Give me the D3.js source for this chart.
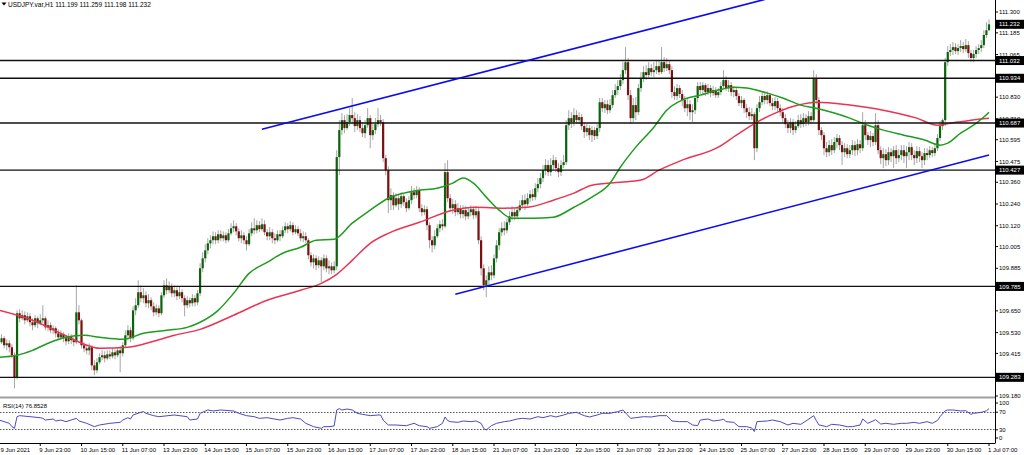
<!DOCTYPE html>
<html><head><meta charset="utf-8">
<script src="https://cdn.jsdelivr.net/npm/d3@7"></script>
<style>body{margin:0;background:#fff;}svg{display:block;}text{font-family:"Liberation Sans",Arial,sans-serif;}</style>
</head><body><svg id="c" width="1024" height="455"></svg>
<script>
const symbol = "USDJPY.var,H1";
const opens = [
109.488,109.477,109.499,109.460,109.471,109.449,109.405,109.283,109.637,109.609,
109.626,109.598,109.620,109.587,109.571,109.609,109.582,109.598,109.609,109.559,
109.571,109.543,109.554,109.526,109.504,109.521,109.499,109.482,109.510,109.488,
109.477,109.642,109.598,109.460,109.443,109.432,109.449,109.349,109.322,109.366,
109.394,109.405,109.388,109.410,109.399,109.421,109.405,109.432,109.416,109.460,
109.515,109.543,109.499,109.653,109.681,109.753,109.720,109.736,109.692,109.709,
109.675,109.642,109.664,109.637,109.736,109.791,109.764,109.786,109.747,109.764,
109.731,109.753,109.720,109.681,109.709,109.692,109.720,109.697,109.747,109.885,
109.940,109.984,110.023,110.040,110.062,110.040,110.073,110.051,110.067,110.040,
110.078,110.106,110.117,110.089,110.051,110.067,110.040,110.018,110.078,110.106,
110.095,110.123,110.101,110.128,110.084,110.062,110.084,110.051,110.040,110.073,
110.062,110.095,110.117,110.101,110.123,110.084,110.101,110.078,110.051,110.062,
110.040,109.957,109.918,109.940,109.902,109.929,109.896,109.940,109.885,109.896,
109.874,109.896,110.499,110.648,110.703,110.659,110.692,110.731,110.714,110.670,
110.703,110.659,110.631,110.675,110.714,110.620,110.648,110.681,110.703,110.692,
110.493,110.427,110.261,110.289,110.233,110.272,110.239,110.283,110.250,110.217,
110.261,110.305,110.289,110.316,110.217,110.195,110.211,110.123,110.040,110.012,
110.062,110.106,110.128,110.117,110.416,110.272,110.217,110.239,110.195,110.217,
110.184,110.206,110.172,110.195,110.211,110.178,110.200,110.040,109.885,109.791,
109.819,109.863,109.846,109.940,110.012,110.084,110.106,110.095,110.139,110.172,
110.195,110.172,110.206,110.233,110.261,110.239,110.272,110.294,110.278,110.327,
110.350,110.383,110.427,110.455,110.416,110.455,110.482,110.438,110.416,110.455,
110.471,110.675,110.714,110.692,110.731,110.703,110.720,110.670,110.637,110.659,
110.620,110.648,110.615,110.659,110.802,110.769,110.791,110.758,110.786,110.841,
110.869,110.891,110.924,110.979,111.023,110.841,110.714,110.786,110.747,110.880,
110.935,110.968,110.952,110.990,110.968,110.979,111.001,110.968,111.023,110.990,
111.012,110.979,110.858,110.836,110.880,110.847,110.814,110.769,110.791,110.747,
110.758,110.825,110.891,110.869,110.896,110.858,110.880,110.852,110.869,110.841,
110.858,110.891,110.924,110.880,110.896,110.858,110.869,110.836,110.797,110.814,
110.769,110.747,110.725,110.736,110.548,110.769,110.802,110.836,110.814,110.841,
110.797,110.780,110.808,110.769,110.747,110.714,110.681,110.659,110.692,110.648,
110.670,110.703,110.681,110.714,110.692,110.725,110.703,110.935,110.814,110.648,
110.620,110.548,110.526,110.565,110.537,110.582,110.604,110.565,110.526,110.548,
110.515,110.537,110.565,110.537,110.570,110.548,110.675,110.620,110.593,110.615,
110.582,110.675,110.537,110.493,110.515,110.482,110.526,110.504,110.537,110.493,
110.510,110.537,110.504,110.526,110.554,110.510,110.493,110.532,110.504,110.482,
110.521,110.510,110.537,110.521,110.548,110.604,110.670,110.703,111.023,111.079,
111.090,111.106,111.084,111.101,111.112,111.095,111.117,111.073,111.046,111.068,
111.090,111.101,111.117,111.173,111.199];
const highs = [
109.515,109.521,109.510,109.493,109.488,109.466,109.421,109.653,109.659,109.653,
109.647,109.642,109.637,109.609,109.626,109.620,109.631,109.681,109.620,109.598,
109.587,109.571,109.565,109.548,109.543,109.532,109.515,109.526,109.521,109.504,
109.791,109.681,109.609,109.477,109.460,109.471,109.460,109.377,109.388,109.416,
109.432,109.427,109.432,109.432,109.443,109.438,109.449,109.455,109.477,109.543,
109.571,109.559,109.675,109.720,109.819,109.791,109.775,109.758,109.742,109.725,
109.697,109.686,109.681,109.753,109.819,109.830,109.813,109.802,109.791,109.780,
109.786,109.769,109.736,109.731,109.725,109.742,109.736,109.764,109.913,109.973,
110.018,110.051,110.067,110.089,110.084,110.095,110.095,110.089,110.084,110.101,
110.134,110.150,110.134,110.106,110.095,110.084,110.062,110.101,110.139,110.161,
110.150,110.145,110.161,110.150,110.101,110.112,110.101,110.078,110.095,110.095,
110.117,110.139,110.134,110.145,110.139,110.123,110.117,110.101,110.089,110.084,
110.051,109.973,109.962,109.957,109.951,109.946,109.962,109.957,109.929,109.918,
109.924,110.537,110.703,110.742,110.731,110.736,110.769,110.825,110.747,110.736,
110.725,110.692,110.703,110.769,110.731,110.681,110.714,110.769,110.731,110.709,
110.510,110.449,110.327,110.305,110.300,110.294,110.305,110.300,110.272,110.283,
110.339,110.327,110.339,110.333,110.239,110.233,110.228,110.139,110.062,110.095,
110.128,110.150,110.156,110.466,110.482,110.294,110.267,110.261,110.245,110.233,
110.233,110.228,110.222,110.233,110.228,110.228,110.217,110.062,109.907,109.846,
109.896,109.902,109.962,110.040,110.106,110.139,110.145,110.161,110.200,110.228,
110.217,110.228,110.261,110.289,110.294,110.300,110.316,110.322,110.355,110.383,
110.410,110.455,110.488,110.482,110.493,110.510,110.499,110.466,110.482,110.510,
110.703,110.758,110.747,110.769,110.758,110.747,110.736,110.692,110.681,110.675,
110.670,110.664,110.681,110.825,110.825,110.814,110.814,110.819,110.869,110.902,
110.924,110.957,111.023,111.106,111.046,110.869,110.825,110.830,110.902,110.968,
111.001,111.007,111.023,111.012,111.023,111.035,111.035,111.106,111.051,111.046,
111.035,111.001,110.891,110.902,110.896,110.869,110.836,110.819,110.814,110.791,
110.841,110.913,110.913,110.913,110.907,110.902,110.896,110.891,110.885,110.880,
110.913,110.979,110.946,110.924,110.913,110.891,110.880,110.852,110.836,110.825,
110.791,110.775,110.769,110.747,110.791,110.836,110.858,110.858,110.863,110.852,
110.825,110.830,110.825,110.791,110.769,110.736,110.703,110.714,110.709,110.698,
110.731,110.736,110.742,110.736,110.753,110.747,110.979,110.957,110.830,110.664,
110.637,110.582,110.593,110.598,110.609,110.626,110.620,110.587,110.576,110.570,
110.565,110.593,110.587,110.598,110.593,110.747,110.703,110.637,110.642,110.631,
110.742,110.703,110.559,110.548,110.543,110.554,110.548,110.559,110.565,110.543,
110.565,110.565,110.559,110.582,110.576,110.537,110.559,110.554,110.526,110.548,
110.548,110.559,110.554,110.570,110.626,110.698,110.714,111.046,111.112,111.123,
111.134,111.128,111.123,111.145,111.134,111.151,111.139,111.090,111.090,111.112,
111.123,111.145,111.200,111.244,111.259];
const lows = [
109.455,109.466,109.443,109.432,109.421,109.388,109.222,109.272,109.587,109.598,
109.576,109.587,109.565,109.543,109.559,109.554,109.571,109.582,109.543,109.537,
109.526,109.521,109.504,109.488,109.493,109.477,109.460,109.466,109.466,109.455,
109.466,109.576,109.443,109.421,109.410,109.405,109.322,109.294,109.305,109.355,
109.377,109.366,109.377,109.383,109.388,109.383,109.394,109.311,109.399,109.443,
109.488,109.477,109.488,109.626,109.664,109.697,109.692,109.670,109.664,109.653,
109.620,109.626,109.615,109.626,109.720,109.742,109.747,109.725,109.725,109.709,
109.714,109.697,109.620,109.664,109.670,109.675,109.675,109.681,109.731,109.863,
109.918,109.962,109.995,110.018,110.018,110.023,110.034,110.034,110.023,110.029,
110.067,110.084,110.067,110.034,110.023,110.018,109.984,110.007,110.062,110.073,
110.078,110.084,110.089,110.067,110.040,110.040,110.023,110.018,110.029,110.034,
110.051,110.078,110.078,110.089,110.067,110.073,110.062,110.034,110.029,110.023,
109.935,109.896,109.885,109.874,109.885,109.808,109.874,109.863,109.852,109.852,
109.857,109.874,110.399,110.620,110.631,110.648,110.670,110.681,110.637,110.648,
110.637,110.609,110.604,110.659,110.548,110.593,110.626,110.664,110.670,110.471,
110.399,110.189,110.206,110.206,110.222,110.206,110.217,110.228,110.195,110.206,
110.239,110.267,110.272,110.195,110.172,110.178,110.095,109.995,109.973,109.990,
110.051,110.084,110.095,110.106,110.250,110.195,110.184,110.172,110.178,110.161,
110.161,110.150,110.156,110.172,110.156,110.161,110.018,109.846,109.764,109.725,
109.791,109.819,109.830,109.918,109.984,110.062,110.067,110.078,110.123,110.150,
110.150,110.156,110.195,110.217,110.206,110.228,110.250,110.256,110.261,110.305,
110.327,110.360,110.399,110.394,110.394,110.427,110.416,110.388,110.394,110.438,
110.455,110.648,110.659,110.670,110.681,110.681,110.648,110.604,110.615,110.593,
110.582,110.593,110.598,110.637,110.747,110.742,110.736,110.742,110.769,110.825,
110.841,110.869,110.902,110.957,110.814,110.681,110.692,110.703,110.731,110.858,
110.913,110.924,110.935,110.946,110.941,110.957,110.952,110.957,110.968,110.974,
110.957,110.825,110.814,110.814,110.825,110.780,110.747,110.725,110.703,110.692,
110.736,110.802,110.847,110.847,110.836,110.841,110.830,110.836,110.825,110.825,
110.841,110.880,110.863,110.858,110.836,110.830,110.814,110.780,110.769,110.742,
110.714,110.703,110.703,110.482,110.526,110.747,110.786,110.791,110.791,110.780,
110.758,110.758,110.747,110.725,110.692,110.659,110.631,110.631,110.620,110.631,
110.659,110.659,110.664,110.670,110.675,110.681,110.692,110.791,110.620,110.593,
110.510,110.499,110.504,110.510,110.521,110.548,110.537,110.455,110.499,110.493,
110.493,110.510,110.504,110.510,110.521,110.532,110.593,110.565,110.554,110.559,
110.565,110.515,110.460,110.438,110.449,110.455,110.471,110.438,110.460,110.471,
110.482,110.466,110.438,110.482,110.482,110.455,110.466,110.471,110.438,110.455,
110.482,110.493,110.499,110.504,110.532,110.587,110.648,110.670,111.001,111.057,
111.062,111.068,111.062,111.079,111.073,111.079,111.046,111.023,111.023,111.046,
111.068,111.079,111.101,111.156,111.198];
const closes = [
109.477,109.499,109.460,109.471,109.449,109.405,109.283,109.637,109.609,109.626,
109.598,109.620,109.587,109.571,109.609,109.582,109.598,109.609,109.559,109.571,
109.543,109.554,109.526,109.504,109.521,109.499,109.482,109.510,109.488,109.477,
109.642,109.598,109.460,109.443,109.432,109.449,109.349,109.322,109.366,109.394,
109.405,109.388,109.410,109.399,109.421,109.405,109.432,109.416,109.460,109.515,
109.543,109.499,109.653,109.681,109.753,109.720,109.736,109.692,109.709,109.675,
109.642,109.664,109.637,109.736,109.791,109.764,109.786,109.747,109.764,109.731,
109.753,109.720,109.681,109.709,109.692,109.720,109.697,109.747,109.885,109.940,
109.984,110.023,110.040,110.062,110.040,110.073,110.051,110.067,110.040,110.078,
110.106,110.117,110.089,110.051,110.067,110.040,110.018,110.078,110.106,110.095,
110.123,110.101,110.128,110.084,110.062,110.084,110.051,110.040,110.073,110.062,
110.095,110.117,110.101,110.123,110.084,110.101,110.078,110.051,110.062,110.040,
109.957,109.918,109.940,109.902,109.929,109.896,109.940,109.885,109.896,109.874,
109.896,110.499,110.648,110.703,110.659,110.692,110.731,110.714,110.670,110.703,
110.659,110.631,110.675,110.714,110.620,110.648,110.681,110.703,110.692,110.493,
110.427,110.261,110.289,110.233,110.272,110.239,110.283,110.250,110.217,110.261,
110.305,110.289,110.316,110.217,110.195,110.211,110.123,110.040,110.012,110.062,
110.106,110.128,110.117,110.416,110.272,110.217,110.239,110.195,110.217,110.184,
110.206,110.172,110.195,110.211,110.178,110.200,110.040,109.885,109.791,109.819,
109.863,109.846,109.940,110.012,110.084,110.106,110.095,110.139,110.172,110.195,
110.172,110.206,110.233,110.261,110.239,110.272,110.294,110.278,110.327,110.350,
110.383,110.427,110.455,110.416,110.455,110.482,110.438,110.416,110.455,110.471,
110.675,110.714,110.692,110.731,110.703,110.720,110.670,110.637,110.659,110.620,
110.648,110.615,110.659,110.802,110.769,110.791,110.758,110.786,110.841,110.869,
110.891,110.924,110.979,111.023,110.841,110.714,110.786,110.747,110.880,110.935,
110.968,110.952,110.990,110.968,110.979,111.001,110.968,111.023,110.990,111.012,
110.979,110.858,110.836,110.880,110.847,110.814,110.769,110.791,110.747,110.758,
110.825,110.891,110.869,110.896,110.858,110.880,110.852,110.869,110.841,110.858,
110.891,110.924,110.880,110.896,110.858,110.869,110.836,110.797,110.814,110.769,
110.747,110.725,110.736,110.548,110.769,110.802,110.836,110.814,110.841,110.797,
110.780,110.808,110.769,110.747,110.714,110.681,110.659,110.692,110.648,110.670,
110.703,110.681,110.714,110.692,110.725,110.703,110.935,110.814,110.648,110.620,
110.548,110.526,110.565,110.537,110.582,110.604,110.565,110.526,110.548,110.515,
110.537,110.565,110.537,110.570,110.548,110.675,110.620,110.593,110.615,110.582,
110.675,110.537,110.493,110.515,110.482,110.526,110.504,110.537,110.493,110.510,
110.537,110.504,110.526,110.554,110.510,110.493,110.532,110.504,110.482,110.521,
110.510,110.537,110.521,110.548,110.604,110.670,110.703,111.023,111.079,111.090,
111.106,111.084,111.101,111.112,111.095,111.117,111.073,111.046,111.068,111.090,
111.101,111.117,111.173,111.199,111.232];

// moving averages sampled along the bars: [barIndex, price]
const maFast = [[0,109.394],[7,109.405],[13,109.432],[20,109.477],[26,109.504],[33,109.515],[39,109.504],[48,109.493],[56,109.526],[65,109.543],
[73,109.559],[78,109.587],[85,109.653],[91,109.747],[97,109.857],[104,109.918],[110,109.968],[117,110.001],[123,110.040],[130,110.045],
[137,110.134],[144,110.206],[151,110.272],[157,110.300],[163,110.316],[170,110.327],[176,110.355],[180,110.383],[184,110.355],[189,110.278],
[194,110.206],[199,110.161],[207,110.161],[215,110.167],[223,110.222],[230,110.278],[237,110.355],[241,110.443],[247,110.554],[254,110.664],
[259,110.758],[265,110.814],[272,110.841],[279,110.869],[285,110.885],[290,110.880],[298,110.852],[304,110.825],[311,110.786],[317,110.769],
[324,110.742],[330,110.714],[337,110.675],[343,110.648],[351,110.620],[359,110.593],[365,110.565],[368,110.576],[373,110.631],[378,110.675],
[382,110.720],[384,110.747]];
const maSlow = [[0,109.653],[13,109.598],[24,109.526],[33,109.466],[39,109.443],[50,109.449],[60,109.482],[68,109.515],[78,109.548],[91,109.626],
[104,109.709],[117,109.764],[125,109.802],[131,109.852],[137,109.929],[144,110.023],[151,110.078],[163,110.139],[176,110.206],[185,110.222],
[196,110.217],[205,110.222],[215,110.261],[223,110.300],[230,110.344],[241,110.360],[249,110.372],[256,110.427],[265,110.482],[279,110.554],
[286,110.620],[294,110.692],[302,110.747],[310,110.786],[317,110.802],[330,110.786],[343,110.758],[356,110.714],[364,110.675],[369,110.686],
[377,110.703],[384,110.714]];
const rsiPoints = [[0,51.1],[2,47.4],[4,43.6],[5,36],[6,32.2],[7,58.7],[8,61],[12,58.7],[16,56.4],[17,54.9],[18,51.1],[21,53.4],[22,48.9],[24,51.1],[26,47.4],[30,54.9],[31,48.9],[34,43.6],[37,36],[39,39.8],[43,43.6],[47,45.8],[48,51.1],[50,56.4],[51,53.4],[52,62.5],[55,68.6],[56,70.1],[57,66.3],[60,61],[62,58.7],[68,62.5],[73,58.7],[74,51.1],[77,53.4],[78,66.3],[81,73.9],[83,71.6],[86,73.9],[91,71.6],[93,66.3],[96,61],[99,58.7],[101,54.9],[104,56.4],[109,51.1],[112,54.9],[114,56.4],[117,53.4],[119,43.6],[122,36],[125,32.2],[126,36],[128,36],[130,37.5],[131,73.9],[132,77],[133,73.9],[135,76.1],[137,73.9],[139,66.3],[141,64],[144,61],[147,62.5],[148,62.5],[149,51.1],[151,39.8],[154,39.8],[158,38.2],[161,43.6],[163,38.2],[166,36],[167,32.2],[170,36],[172,43.6],[173,58],[174,50],[175,47.4],[178,45.8],[180,48.9],[183,47.4],[185,48.9],[187,43.6],[188,32.2],[189,28.4],[191,38.2],[193,43.6],[196,47.4],[198,48.9],[201,53.4],[203,54.9],[206,53.4],[209,58.7],[211,56.4],[214,61],[216,58],[219,62.5],[221,66.3],[224,68.6],[227,61],[229,58],[232,62.5],[234,66.3],[237,66.3],[240,70.1],[242,73.9],[245,54.9],[247,56.4],[250,58.7],[253,58],[256,61],[259,61],[261,48.9],[264,47.4],[267,47.4],[269,39.8],[271,38.2],[272,51.1],[275,53.4],[277,48.9],[280,51.1],[281,53.4],[282,47.4],[285,45.8],[287,36],[290,36],[292,33],[293,25],[294,47.4],[298,48.9],[300,51.1],[303,47.4],[306,39.8],[308,43.6],[311,41.3],[313,48.9],[316,61],[317,50],[318,40],[321,36],[323,41.3],[326,39.8],[329,36],[331,36],[334,39.8],[335,53.4],[337,43.6],[339,48.9],[340,52],[342,42],[344,43.6],[347,41.3],[350,43.6],[352,43.6],[355,45.8],[357,43.6],[360,47.4],[362,43.6],[364,50],[365,58.7],[367,72],[368,73.9],[370,73.9],[373,71.6],[375,72.3],[377,64],[378,66.3],[381,68.6],[383,72],[384,76.8528]];

const levels = [111.032, 110.934, 110.687, 110.427, 109.785, 109.283];
const trendLines = [[[102,110.653],[298,111.373]], [[177,109.742],[384,110.510]]];
const priceTicks = [111.300,111.185,111.065,110.830,110.710,110.595,110.475,110.360,110.240,110.120,110.005,109.885,109.770,109.650,109.530,109.415,109.180];
const rsiTicks = [100, 70, 30, 0];
const rsiLevels = [70, 30];
const timeLabels = ["9 Jun 2021","9 Jun 23:00","10 Jun 15:00","11 Jun 07:00","13 Jun 23:00","14 Jun 15:00","15 Jun 07:00","15 Jun 23:00","16 Jun 15:00","17 Jun 07:00","17 Jun 23:00","18 Jun 15:00","21 Jun 07:00","21 Jun 23:00","22 Jun 15:00","23 Jun 07:00","23 Jun 23:00","24 Jun 15:00","25 Jun 07:00","27 Jun 23:00","28 Jun 15:00","29 Jun 07:00","29 Jun 23:00","30 Jun 15:00","1 Jul 07:00"];
const timeLabelStep = 16;

const svg = d3.select("#c");
const plotR = 995;
const n = closes.length;
const x = d3.scaleLinear().domain([0, n - 1]).range([-1, 989]);
const y = d3.scaleLinear().domain([109.180, 111.300]).range([396, 12]);
const ry = d3.scaleLinear().domain([0, 100]).range([442.5, 398.5]);

const defs = svg.append("defs");
defs.append("clipPath").attr("id","cm").append("rect").attr("x",0).attr("y",0).attr("width",plotR).attr("height",396.5);
defs.append("clipPath").attr("id","cr").append("rect").attr("x",0).attr("y",399).attr("width",plotR).attr("height",44);

const main = svg.append("g").attr("clip-path","url(#cm)");
const idx = d3.range(n);
main.selectAll("line.w").data(idx).join("line").attr("class","w")
  .attr("x1", i => x(i)).attr("x2", i => x(i))
  .attr("y1", i => y(Math.max(highs[i], opens[i], closes[i])))
  .attr("y2", i => y(Math.min(lows[i], opens[i], closes[i])))
  .attr("stroke","#a6a6a6").attr("stroke-width",1);
main.selectAll("rect.b").data(idx).join("rect").attr("class","b")
  .attr("x", i => x(i) - 1.1).attr("width", 2.2)
  .attr("y", i => y(Math.max(opens[i], closes[i])))
  .attr("height", i => Math.max(1, Math.abs(y(opens[i]) - y(closes[i]))))
  .attr("fill", i => closes[i] >= opens[i] ? "#0b630b" : "#7a1010");

const maLine = d3.line().x(d => x(d[0])).y(d => y(d[1])).curve(d3.curveMonotoneX);
main.append("path").attr("d", maLine(maSlow)).attr("fill","none").attr("stroke","#ea3452").attr("stroke-width",1.5);
main.append("path").attr("d", maLine(maFast)).attr("fill","none").attr("stroke","#1e9c1e").attr("stroke-width",1.5);

main.selectAll("line.lv").data(levels).join("line").attr("class","lv")
  .attr("x1",0).attr("x2",plotR).attr("y1", d => y(d)).attr("y2", d => y(d))
  .attr("stroke","#111").attr("stroke-width",1.4);
const tl = d3.line().x(d => x(d[0])).y(d => y(d[1]));
main.selectAll("path.tl").data(trendLines).join("path").attr("class","tl")
  .attr("d", d => tl(d)).attr("fill","none").attr("stroke","#0a0af5").attr("stroke-width",1.6);

// separator between main window and RSI window
svg.append("rect").attr("x",0).attr("y",396.5).attr("width",plotR).attr("height",2).attr("fill","#a0a0a0");

// RSI window
const rg = svg.append("g").attr("clip-path","url(#cr)");
rg.selectAll("line.rl").data(rsiLevels).join("line").attr("class","rl")
  .attr("x1",0).attr("x2",plotR).attr("y1", d => Math.round(ry(d))+0.5).attr("y2", d => Math.round(ry(d))+0.5)
  .attr("stroke","#555").attr("stroke-width",1).attr("stroke-dasharray","1.5,1.5");
rg.append("path").attr("d", d3.line().x(d => x(d[0])).y(d => ry(d[1]))(rsiPoints))
  .attr("fill","none").attr("stroke","#4a4ac4").attr("stroke-width",1);
svg.append("text").attr("x",3).attr("y",407.5).attr("font-size",6).attr("fill","#000")
  .text("RSI(14) " + rsiPoints[rsiPoints.length-1][1].toFixed(4));

// price axis
svg.append("line").attr("x1",plotR+0.5).attr("x2",plotR+0.5).attr("y1",0).attr("y2",443.5).attr("stroke","#000").attr("stroke-width",1);
const ax = svg.append("g");
ax.selectAll("line.pt").data(priceTicks).join("line").attr("class","pt")
  .attr("x1",plotR).attr("x2",plotR+3).attr("y1", d => y(d)).attr("y2", d => y(d)).attr("stroke","#000");
ax.selectAll("text.pt").data(priceTicks).join("text").attr("class","pt")
  .attr("x",999).attr("y", d => y(d) + 2.1).attr("font-size",6).attr("fill","#000").text(d => d.toFixed(3));
const boxes = levels.concat([closes[n-1]]);
const bx = ax.selectAll("g.box").data(boxes).join("g").attr("class","box");
bx.append("rect").attr("x",996).attr("y", d => y(d) - 4.5).attr("width",28).attr("height",9).attr("fill","#000");
bx.append("text").attr("x",999).attr("y", d => y(d) + 2.1).attr("font-size",6).attr("fill","#fff").text(d => d.toFixed(3));

// rsi axis labels
ax.selectAll("text.rt").data(rsiTicks).join("text").attr("class","rt")
  .attr("x",999).attr("y", d => ry(d) + 2.1 + (d === 100 ? 4.5 : d === 0 ? -4.5 : 0.5))
  .attr("font-size",6).attr("fill","#000").text(d => d);
ax.selectAll("line.rt").data(rsiTicks).join("line").attr("class","rt")
  .attr("x1",plotR).attr("x2",plotR+3)
  .attr("y1", d => ry(d) + (d === 100 ? 4.5 : d === 0 ? -4.5 : 0.5))
  .attr("y2", d => ry(d) + (d === 100 ? 4.5 : d === 0 ? -4.5 : 0.5)).attr("stroke","#000");

// time axis
svg.append("line").attr("x1",0).attr("x2",plotR).attr("y1",443.5).attr("y2",443.5).attr("stroke","#000");
const tg = svg.append("g");
tg.selectAll("line").data(timeLabels).join("line")
  .attr("x1",(d,k) => x(k*timeLabelStep)).attr("x2",(d,k) => x(k*timeLabelStep))
  .attr("y1",443.5).attr("y2",446).attr("stroke","#000");
tg.selectAll("text").data(timeLabels).join("text")
  .attr("x",(d,k) => Math.max(0.5, x(k*timeLabelStep) - 1)).attr("y",451.5).attr("font-size",6).attr("fill","#000").text(d => d);

// title
svg.append("path").attr("d","M1.5,2.5 L6.5,2.5 L4,5.5 Z").attr("fill","#000");
svg.append("text").attr("x",8).attr("y",7).attr("font-size",6.5).attr("fill","#000")
  .text(symbol + " " + [opens[n-1], highs[n-1], lows[n-1], closes[n-1]].map(v => v.toFixed(3)).join(" "));
</script></body></html>
